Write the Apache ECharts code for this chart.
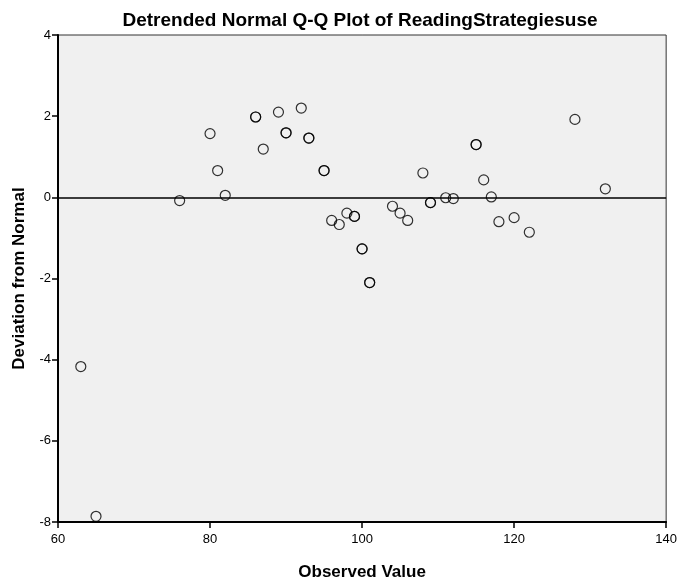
<!DOCTYPE html>
<html><head><meta charset="utf-8">
<script src="https://cdn.jsdelivr.net/npm/echarts@6/dist/echarts.min.js"></script>
<style>html,body{margin:0;padding:0;background:#fff}#c{width:680px;height:586px}</style>
</head><body><div id="c"></div>
<script>
var observed = [63,65,76,80,81,82,86,86,87,89,90,90,92,93,93,95,95,96,97,98,99,99,100,100,101,101,104,105,106,108,109,109,111,112,115,115,116,117,118,120,122,128,132];
var deviation = [-4.17,-7.86,-0.08,1.57,0.66,0.05,1.98,1.98,1.19,2.1,1.59,1.59,2.2,1.46,1.46,0.66,0.66,-0.57,-0.67,-0.39,-0.47,-0.47,-1.27,-1.27,-2.1,-2.1,-0.22,-0.39,-0.57,0.6,-0.13,-0.13,-0.01,-0.03,1.3,1.3,0.43,0.01,-0.6,-0.5,-0.86,1.92,0.21];
var xTicks = [60,80,100,120,140];
var yTicks = [-8,-6,-4,-2,0,2,4];

var pts = observed.map(function(v,i){return [v, deviation[i]];});
var font = '"Liberation Sans", Arial, sans-serif';
var chart = echarts.init(document.getElementById('c'), null, {renderer:'canvas'});
chart.setOption({
  backgroundColor:'#fff',
  animation:false,
  title:{text:'Detrended Normal Q-Q Plot of ReadingStrategiesuse', left:355, top:6, textAlign:'center',
    textStyle:{fontFamily:font, fontWeight:'bold', fontSize:19, color:'#000'}},
  grid:{left:58, right:11, top:35, bottom:56, show:true, backgroundColor:'#f0f0f0', borderColor:'#333', borderWidth:1},
  xAxis:{type:'value', min:xTicks[0], max:xTicks[xTicks.length-1], interval:20,
    name:'Observed Value', nameLocation:'middle', nameGap:42,
    nameTextStyle:{fontFamily:font, fontWeight:'bold', fontSize:17, color:'#000'},
    axisLine:{show:true, onZero:false, lineStyle:{color:'#000', width:2}},
    axisTick:{show:true, inside:false, length:6, lineStyle:{color:'#000', width:1.5}},
    axisLabel:{fontFamily:font, fontSize:13, color:'#000', margin:11},
    splitLine:{show:false}},
  yAxis:{type:'value', min:yTicks[0], max:yTicks[yTicks.length-1], interval:2,
    name:'Deviation from Normal', nameLocation:'middle', nameGap:30,
    nameTextStyle:{fontFamily:font, fontWeight:'bold', fontSize:17, color:'#000'},
    axisLine:{show:true, onZero:false, lineStyle:{color:'#000', width:2}},
    axisTick:{show:true, inside:false, length:6, lineStyle:{color:'#000', width:1.5}},
    axisLabel:{fontFamily:font, fontSize:13, color:'#000', margin:7},
    splitLine:{show:false}},
  series:[{type:'scatter', data:pts, symbol:'circle', symbolSize:10,
    itemStyle:{color:'rgba(0,0,0,0)', borderColor:'#000', borderWidth:1.2},
    markLine:{silent:true, symbol:['none','none'], label:{show:false},
      lineStyle:{color:'#000', width:1.5, type:'solid'}, data:[{yAxis:0}]}}]
});
</script></body></html>
